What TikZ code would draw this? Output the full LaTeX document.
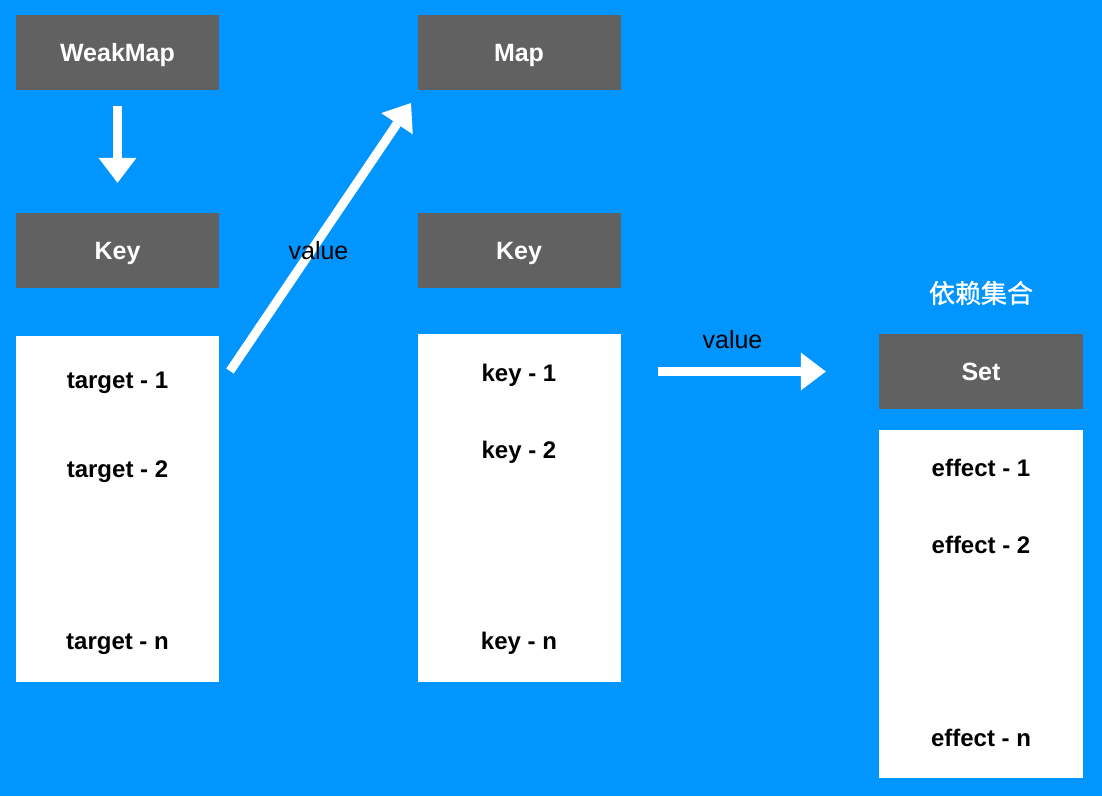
\documentclass[tikz,border=0pt]{standalone}
\usepackage{fontspec}
\setmainfont{Liberation Sans}
\newfontfamily\cjk{Noto Sans CJK SC}[FakeBold=1.2]
\usetikzlibrary{arrows.meta}
\definecolor{bg}{RGB}{0,149,255}
\definecolor{boxgray}{RGB}{97,97,97}

\begin{document}
\begin{tikzpicture}[x=1pt,y=-1pt,
  head/.style={fill=boxgray,draw=none,inner sep=0pt,minimum width=203pt,minimum height=75pt,
    text=white,font=\fontsize{25}{25}\selectfont\bfseries,text height=17.9pt,text depth=0pt},
  panel/.style={fill=white,draw=none,inner sep=0pt,minimum width=203pt},
  entry/.style={inner sep=0pt,font=\fontsize{24}{24}\selectfont\bfseries,text height=17.2pt,text depth=0pt},
  vlabel/.style={inner sep=0pt,font=\fontsize{25}{25}\selectfont,text height=13pt,text depth=0pt},
  bigarrow/.style={draw=white,line width=9pt,
    -{Triangle[width=38pt,length=25pt,line width=0pt]}}]

% canvas
\fill[bg] (0,0) rectangle (1102,796);
\useasboundingbox (0,0) rectangle (1102,796);

% WeakMap column
\node[head] (wm) at (117.5,52.5) {WeakMap};
\node[head] (key1) at (117.5,250.5) {Key};
\node[panel,minimum height=346pt] (p1) at (117.5,509) {};
\node[entry] (t1) at (117.5,380) {target - 1};
\node[entry] (t2) at (117.5,469) {target - 2};
\node[entry] (tn) at (117.5,641) {target - n};

% Map column
\node[head] (map) at (519,52.5) {Map};
\node[head] (key2) at (519,250.5) {Key};
\node[panel,minimum height=348pt] (p2) at (519,508) {};
\node[entry] (k1) at (519,373) {key - 1};
\node[entry] (k2) at (519,450) {key - 2};
\node[entry] (kn) at (519,641) {key - n};

% Set column
\node[text=white,inner sep=0pt,font=\cjk\fontsize{26}{26}\selectfont] (dep) at (981,293) {依赖集合};
\node[head,minimum width=204pt] (set) at (981,371.5) {Set};
\node[panel,minimum width=204pt,minimum height=348pt] (p3) at (981,604) {};
\node[entry] (e1) at (981,468) {effect - 1};
\node[entry] (e2) at (981,545) {effect - 2};
\node[entry] (en) at (981,738) {effect - n};

% connectors
\draw[bigarrow] ([yshift=-16pt]wm.south) -- ([yshift=30pt]key1.north);

\coordinate (vstart) at (230,371);
\coordinate (vend) at (411,103);
\draw[bigarrow] (vstart) -- (vend);
\node[vlabel] (v1) at (318.5,253) {value};

\draw[bigarrow] ([xshift=37pt]p2.east |- set.west) -- ([xshift=-53pt]set.west);
\node[vlabel] (v2) at (732.5,342) {value};
\end{tikzpicture}
\end{document}
